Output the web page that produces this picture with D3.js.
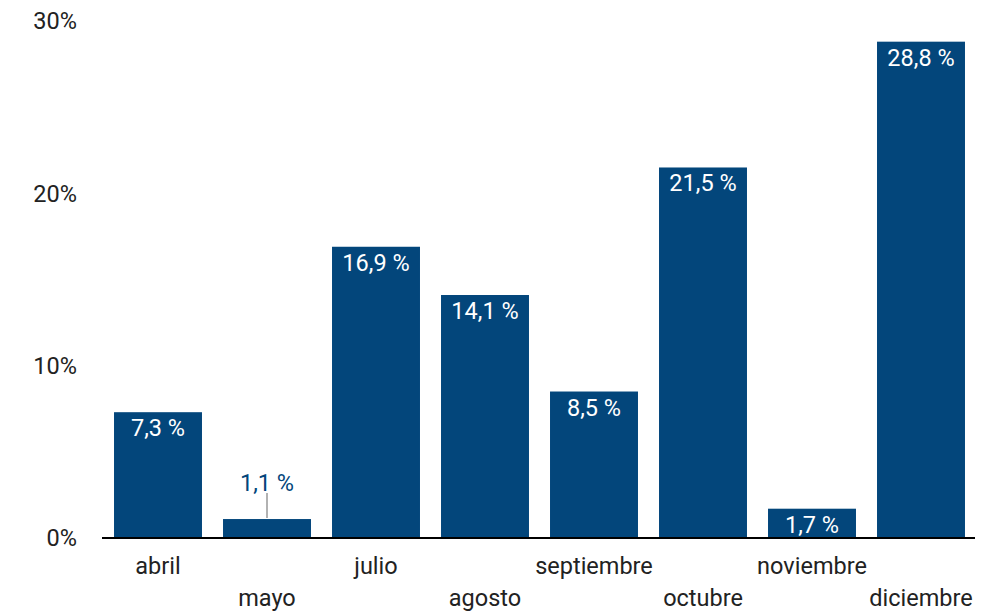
<!DOCTYPE html>
<html><head><meta charset="utf-8">
<script src="https://cdn.jsdelivr.net/npm/d3@7"></script>
<style>body{margin:0;background:#fff}svg{display:block}text{font-family:Roboto,"Noto Sans",sans-serif;font-weight:400}</style>
</head><body>
<svg id="c" width="1000" height="613"></svg>
<script>
const categories = ["abril","mayo","julio","agosto","septiembre","octubre","noviembre","diciembre"];
const values = [7.3,1.1,16.9,14.1,8.5,21.5,1.7,28.8];
const valueLabels = ["7,3 %","1,1 %","16,9 %","14,1 %","8,5 %","21,5 %","1,7 %","28,8 %"];
const yTicks = [0,10,20,30];
const yTickLabels = ["0%","10%","20%","30%"];

const svg = d3.select("#c");
const color = "#03467b";
const fs = 23.5;
const x = d3.scaleBand().domain(categories).range([103.5,975.5]).paddingInner(0.193).paddingOuter(0.0965);
const y = d3.scaleLinear().domain([0,30]).range([538,21]);

svg.selectAll("rect.bar").data(values).join("rect")
  .attr("x",(d,i)=>x(categories[i])).attr("width",x.bandwidth())
  .attr("y",d=>y(d)).attr("height",d=>y(0)-y(d)).attr("fill",color);

svg.selectAll("text.yt").data(yTicks).join("text")
  .attr("x",77).attr("y",d=>y(d)).attr("dy","0.35em").attr("text-anchor","end")
  .attr("font-size",fs).attr("fill","#222").text((d,i)=>yTickLabels[i]);

svg.append("line").attr("x1",102).attr("x2",975).attr("y1",y(0)).attr("y2",y(0)).attr("stroke","#000").attr("stroke-width",2.2);

svg.selectAll("text.xl").data(categories).join("text")
  .attr("x",d=>x(d)+x.bandwidth()/2).attr("y",(d,i)=>i%2===0?574:606)
  .attr("text-anchor","middle").attr("font-size",fs).attr("fill","#222").text(d=>d);

values.forEach((v,i)=>{
  const cx = x(categories[i])+x.bandwidth()/2;
  const h = y(0)-y(v);
  if (h < 25) {
    if (v < 1.5) {
      svg.append("line").attr("x1",cx).attr("x2",cx).attr("y1",y(v)-1).attr("y2",y(v)-26).attr("stroke","#999").attr("stroke-width",1.5);
      svg.append("text").attr("x",cx).attr("y",y(v)-28).attr("text-anchor","middle").attr("font-size",fs).attr("fill",color).text(valueLabels[i]);
    } else {
      svg.append("text").attr("x",cx).attr("y",y(0)-3).attr("text-anchor","middle").attr("font-size",fs).attr("fill","#fff").text(valueLabels[i]);
    }
  } else {
    svg.append("text").attr("x",cx).attr("y",y(v)+24).attr("text-anchor","middle").attr("font-size",fs).attr("fill","#fff").text(valueLabels[i]);
  }
});
</script>
</body></html>
